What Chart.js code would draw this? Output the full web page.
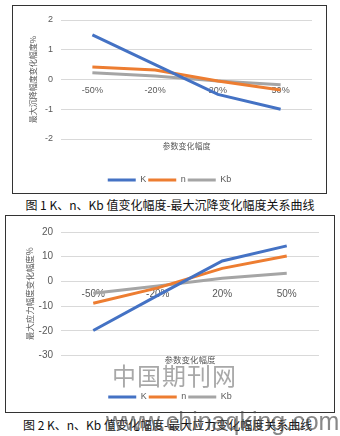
<!DOCTYPE html>
<html lang="zh">
<head>
<meta charset="utf-8">
<script src="https://cdn.jsdelivr.net/npm/chart.js@4.4.1/dist/chart.umd.min.js"></script>
<style>
    html, body { margin: 0; padding: 0; background: #fff; }
    body { position: relative; width: 340px; height: 436px; overflow: hidden; font-family: "Noto Sans CJK SC", sans-serif; }
    .box { position: absolute; border: 1px solid #333; background: #fff; }
    .box canvas { display: block; }
    .caption { position: absolute; font-size: 12px; line-height: 14px; color: #111; white-space: nowrap; }
    .wm { position: absolute; white-space: nowrap; }
</style>
</head>
<body>
<div class="box" style="left:12px;top:5px;width:313px;height:187px;"><canvas id="grafico1" width="313" height="187"></canvas></div>
<div class="caption" style="left:0;top:198px;width:340px;text-align:center;">图 1 K、n、Kb 值变化幅度-最大沉降变化幅度关系曲线</div>
<div class="box" style="left:5px;top:215px;width:328px;height:196px;"><canvas id="grafico2" width="328" height="196"></canvas></div>
<div class="caption" style="left:23px;top:418px;">图 2 K、n、Kb 值变化幅度-最大应力变化幅度关系曲线</div>
<div class="wm" style="left:112px;top:359px;font-size:24px;line-height:32px;letter-spacing:1px;color:rgba(110,110,110,0.6);">中国期刊网</div>
<div class="wm" style="left:106px;top:406px;font-size:25px;line-height:30px;font-family:'Liberation Sans';color:rgba(70,70,70,0.65);">www.chinaqking.com</div>

<script>
const categories = ['-50%', '-20%', '20%', '50%'];
const seriesNames = ['K', 'n', 'Kb'];
const colors = ['#4472C4', '#ED7D31', '#A5A5A5'];

// 图1: 最大沉降变化幅度 %
const settleK = [1.5, 0.5, -0.5, -1.0];
const settleN = [0.42, 0.32, -0.05, -0.35];
const settleKb = [0.23, 0.12, -0.05, -0.18];
const settleTicks = [-2, -1, 0, 1, 2];

// 图2: 最大应力变化幅度 %
const stressK = [-19.8, -5.6, 8.3, 14.4];
const stressN = [-8.8, -2.6, 5.3, 10.3];
const stressKb = [-4.8, -1.8, 1.3, 3.3];
const stressTicks = [-30, -20, -10, 0, 10, 20];

function makeChart(id, values, ticks, yTitle, lay) {
    const ctx = document.getElementById(id).getContext('2d');
    const gray = '#595959';

    return new Chart(ctx, {
        type: 'line',
        data: {
            labels: categories,
            datasets: values.map(function (v, i) {
                return {
                    label: seriesNames[i],
                    data: v,
                    borderColor: colors[i],
                    backgroundColor: colors[i],
                    borderWidth: 3,
                    pointRadius: 0,
                    tension: 0
                };
            })
        },
        options: {
            responsive: false,
            animation: false,
            layout: { padding: { top: lay.top, right: 0, bottom: lay.bottom, left: 0 } },
            scales: {
                x: {
                    position: { y: 0 },
                    offset: true,
                    grid: { display: false, drawTicks: false },
                    border: { display: false },
                    ticks: { color: gray, padding: lay.xPad, font: { family: 'Liberation Sans', size: lay.tickSize } }
                },
                xTitle: {
                    type: 'category',
                    axis: 'x',
                    position: 'bottom',
                    labels: categories,
                    offset: true,
                    grid: { display: false, drawTicks: false },
                    border: { display: false },
                    ticks: { display: false },
                    title: {
                        display: true,
                        text: '参数变化幅度',
                        color: gray,
                        font: { family: 'Noto Sans CJK SC', size: lay.titleSize },
                        padding: { top: 0, bottom: lay.xTitlePad }
                    },
                    afterFit: function (s) { s.height = lay.xTitleH; }
                },
                y: {
                    min: ticks[0],
                    max: ticks[ticks.length - 1],
                    ticks: {
                        stepSize: ticks[1] - ticks[0],
                        color: gray,
                        padding: 8,
                        font: { family: 'Liberation Sans', size: lay.tickSize }
                    },
                    grid: { color: '#D9D9D9', drawTicks: false },
                    border: { display: false },
                    title: {
                        display: true,
                        text: yTitle,
                        color: gray,
                        font: { family: 'Noto Sans CJK SC', size: lay.titleSize },
                        padding: { top: lay.yTitlePad, bottom: 0 }
                    },
                    afterFit: function (s) { s.width = lay.yWidth; }
                },
                yRight: {
                    position: 'right',
                    grid: { display: false, drawTicks: false },
                    border: { display: false },
                    ticks: { display: false },
                    afterFit: function (s) { s.width = lay.right; }
                }
            },
            plugins: {
                legend: {
                    position: 'bottom',
                    labels: {
                        usePointStyle: true,
                        pointStyle: 'line',
                        pointStyleWidth: 28,
                        padding: 2,
                        color: gray,
                        font: { family: 'Liberation Sans', size: 9 }
                    }
                },
                tooltip: { enabled: false }
            }
        }
    });
}

window.onload = function () {
    makeChart('grafico1', [settleK, settleN, settleKb], settleTicks, '最大沉降幅度变化幅度%', {
        top: 14, right: 14, bottom: -1.5, yWidth: 48, yTitlePad: 15,
        xTitleH: 34.5, xTitlePad: 22.7, xPad: 6, tickSize: 9, titleSize: 8
    });

    makeChart('grafico2', [stressK, stressN, stressKb], stressTicks, '最大应力幅度变化幅度%', {
        top: 16, right: 15, bottom: 0.5, yWidth: 55, yTitlePad: 19,
        xTitleH: 34.8, xTitlePad: 25.7, xPad: 7, tickSize: 10, titleSize: 8.5
    });
};
</script>
</body>
</html>
